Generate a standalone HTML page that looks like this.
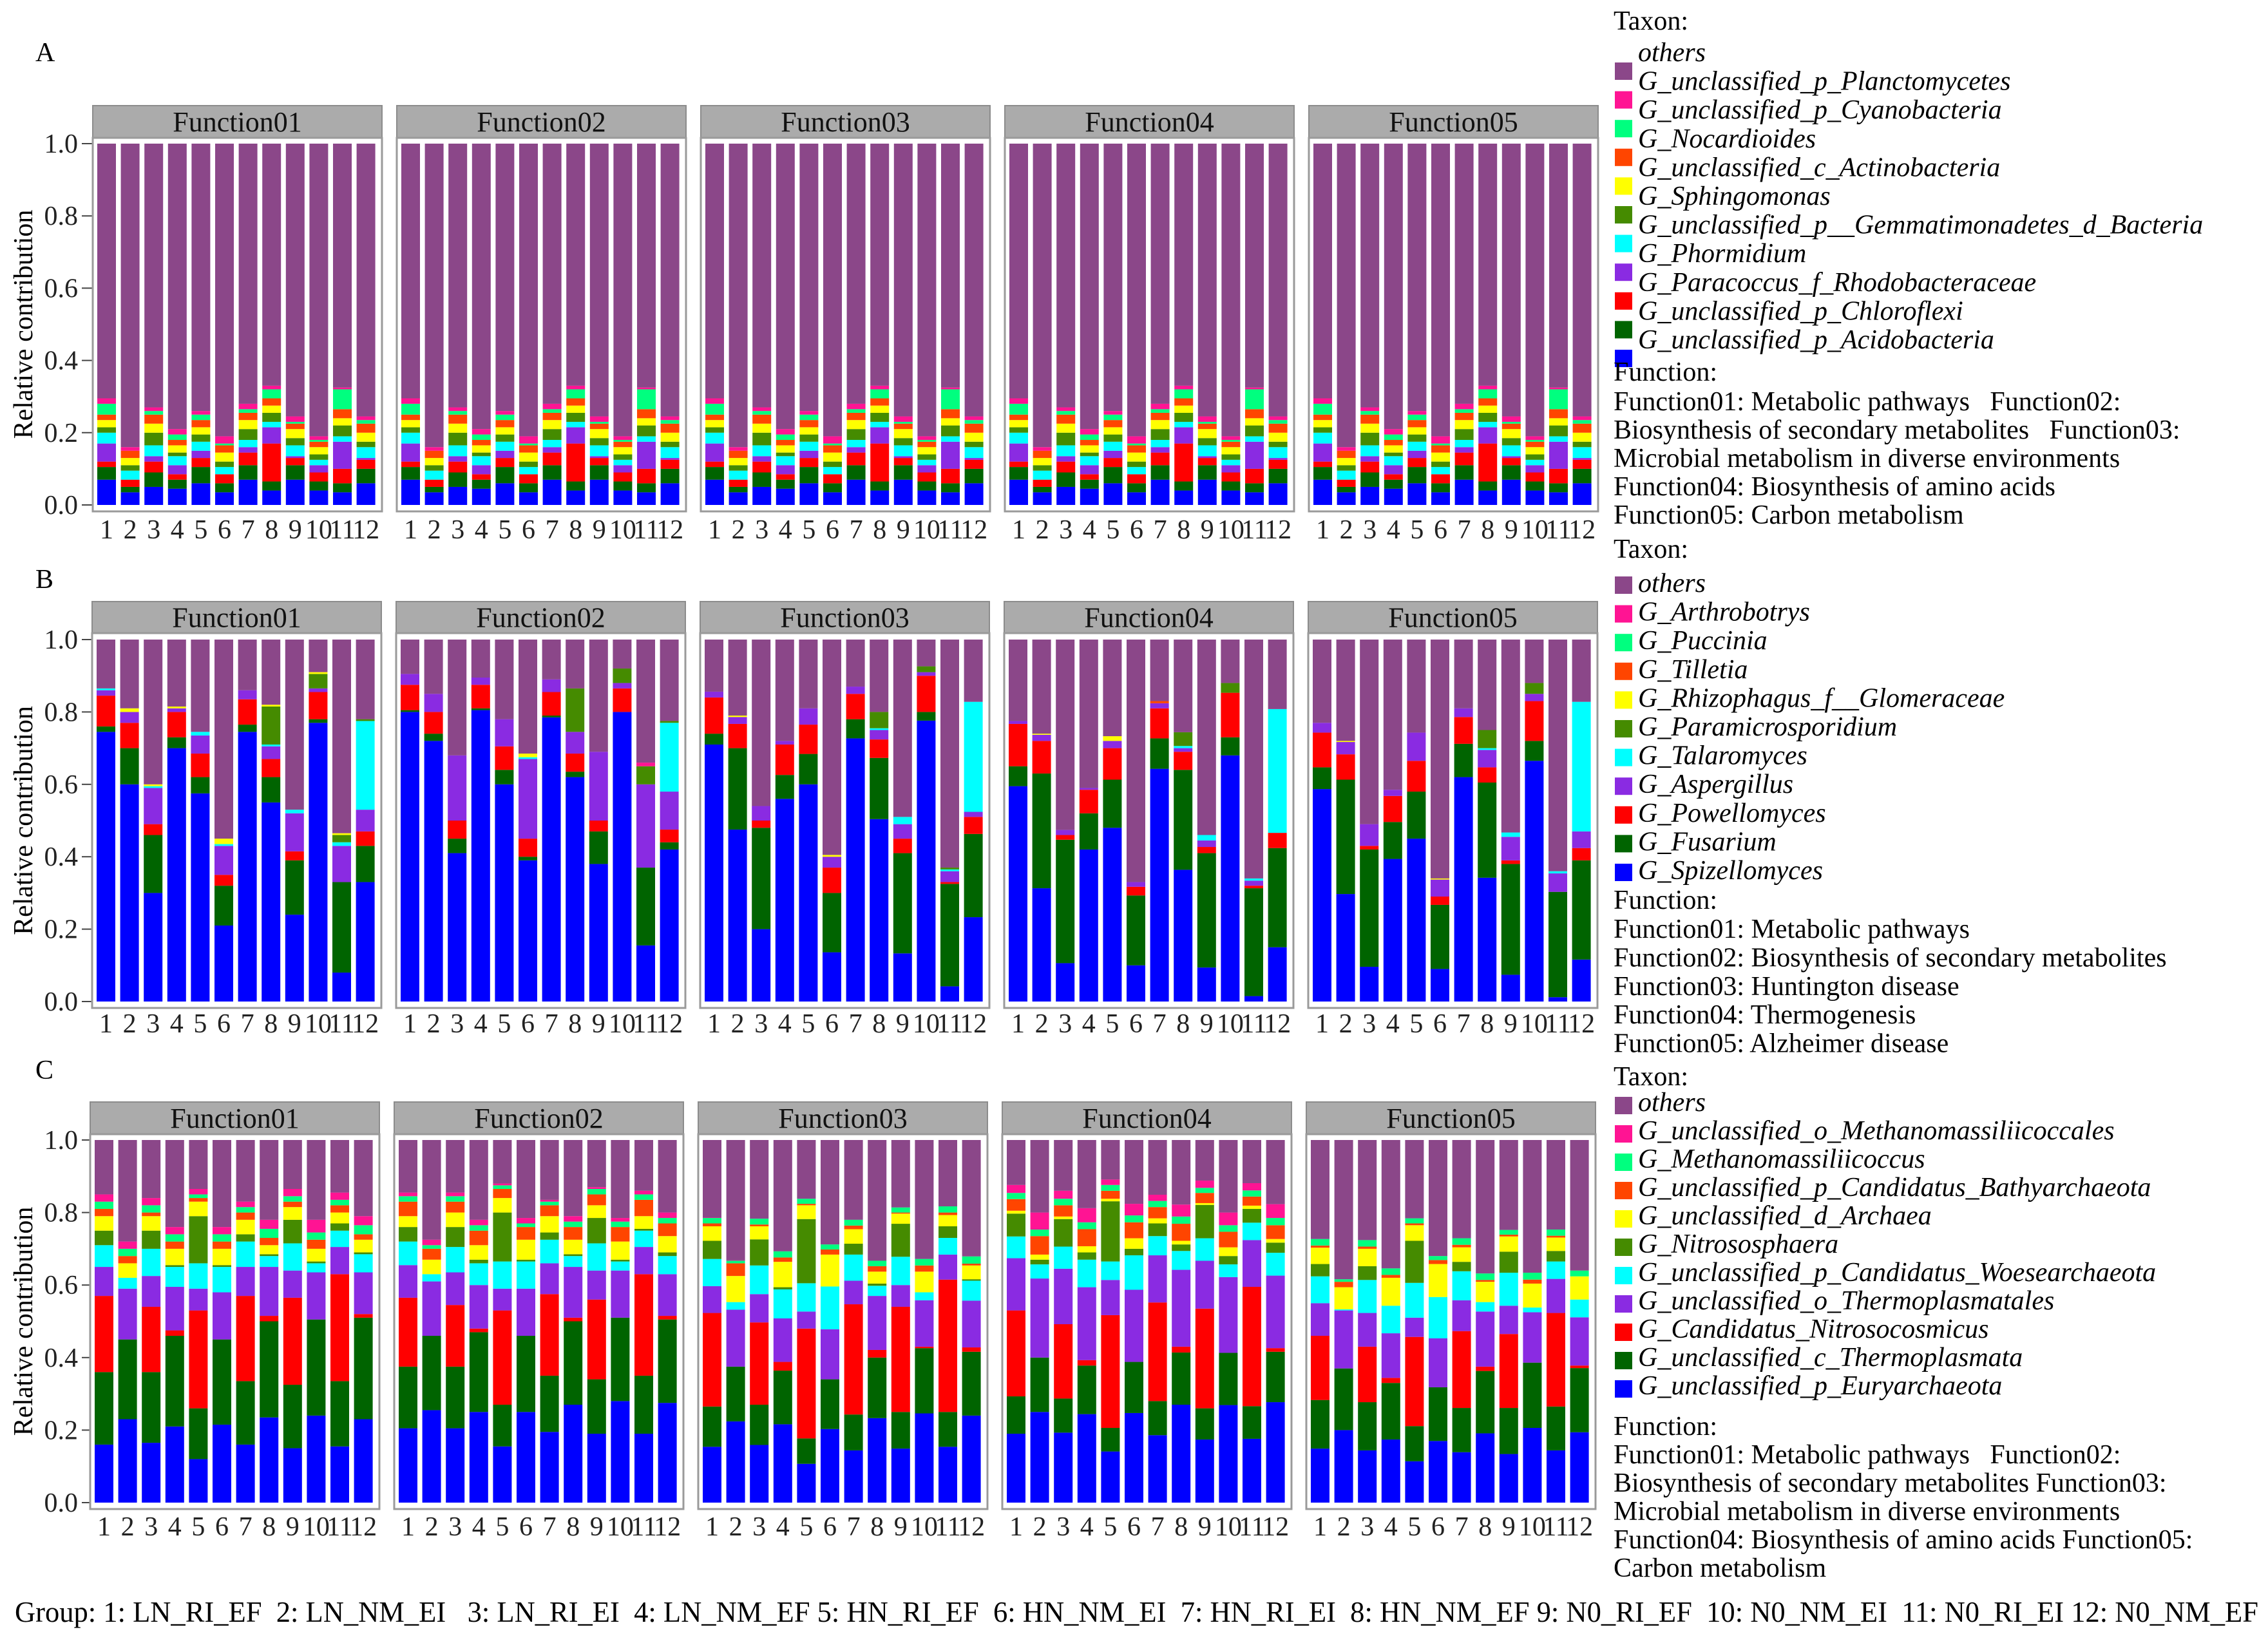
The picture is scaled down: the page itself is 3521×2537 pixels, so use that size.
<!DOCTYPE html>
<html><head><meta charset="utf-8"><style>
html,body{margin:0;padding:0;background:#fff;}
svg{display:block;}
svg text{font-family:"Liberation Serif","DejaVu Serif","Times New Roman",serif;white-space:pre;}
</style></head><body>
<svg id="chart" xmlns="http://www.w3.org/2000/svg" width="3521" height="2537" viewBox="0 0 3521 2537" font-family="Liberation Serif, serif"></svg>
<script>
// ---------- data ----------
const groups = ["1","2","3","4","5","6","7","8","9","10","11","12"];
const functionNames = ["Function01","Function02","Function03","Function04","Function05"];
const yTicks = [0, 0.2, 0.4, 0.6, 0.8, 1.0];
const yTickLabels = ["0.0","0.2","0.4","0.6","0.8","1.0"];
const stackColors = ["#0000FF","#006400","#FF0000","#8A2BE2","#00FFFF","#458B00","#FFFF00","#FF4500","#00FF7F","#FF1493","#8B4789"];

const rowA_cum = [
 [.07,.105,.12,.17,.2,.215,.235,.25,.28,.295],
 [.035,.05,.07,.07,.095,.11,.13,.15,.15,.16],
 [.05,.09,.12,.135,.165,.2,.225,.25,.26,.27],
 [.045,.07,.085,.11,.135,.145,.165,.18,.195,.21],
 [.06,.105,.13,.15,.175,.195,.215,.235,.25,.26],
 [.035,.06,.085,.085,.105,.12,.145,.165,.17,.19],
 [.07,.11,.145,.16,.18,.21,.235,.255,.265,.28],
 [.04,.065,.17,.215,.23,.255,.275,.295,.32,.33],
 [.07,.11,.13,.135,.165,.185,.21,.225,.23,.245],
 [.04,.065,.09,.11,.125,.14,.16,.175,.18,.19],
 [.035,.06,.1,.175,.19,.22,.24,.265,.32,.325],
 [.06,.1,.125,.13,.16,.175,.2,.225,.235,.245]
];
const rowB_f1 = [
 [.745,.76,.845,.86,.865,.865,.865,.865,.865,.865],
 [.60,.70,.77,.80,.80,.80,.81,.81,.81,.81],
 [.30,.46,.49,.59,.595,.595,.60,.60,.60,.60],
 [.70,.73,.80,.81,.81,.81,.815,.815,.815,.815],
 [.575,.62,.685,.735,.745,.745,.745,.745,.745,.745],
 [.21,.32,.35,.43,.435,.435,.45,.45,.45,.45],
 [.745,.765,.835,.86,.86,.86,.86,.86,.86,.86],
 [.55,.62,.67,.705,.71,.815,.82,.82,.82,.82],
 [.24,.39,.415,.52,.53,.53,.53,.53,.53,.53],
 [.77,.78,.855,.865,.865,.905,.91,.91,.91,.91],
 [.08,.33,.33,.43,.44,.46,.465,.465,.465,.465],
 [.33,.43,.47,.53,.775,.78,.78,.78,.78,.78]
];
const rowB_f2 = [
 [.80,.805,.875,.905,.905,.905,.905,.905,.905,.905],
 [.72,.74,.80,.85,.85,.85,.85,.85,.85,.85],
 [.41,.45,.50,.68,.68,.68,.68,.68,.68,.68],
 [.805,.81,.875,.895,.895,.895,.895,.895,.895,.895],
 [.60,.64,.705,.78,.78,.78,.78,.78,.78,.78],
 [.39,.40,.45,.67,.675,.675,.685,.685,.685,.685],
 [.785,.79,.855,.89,.89,.89,.89,.89,.89,.89],
 [.62,.635,.685,.745,.745,.865,.865,.865,.865,.865],
 [.38,.47,.50,.69,.69,.69,.69,.69,.69,.69],
 [.80,.80,.865,.88,.88,.92,.92,.92,.92,.92],
 [.155,.37,.37,.60,.60,.65,.65,.65,.65,.66],
 [.42,.44,.475,.58,.77,.775,.775,.775,.775,.775]
];
const rowB_f3 = [
 [.71,.74,.84,.856,.856,.856,.856,.856,.856,.856],
 [.475,.70,.767,.786,.786,.786,.79,.79,.79,.79],
 [.20,.48,.50,.54,.54,.54,.54,.54,.54,.54],
 [.56,.626,.71,.72,.72,.72,.72,.72,.72,.72],
 [.60,.684,.765,.81,.81,.81,.81,.81,.81,.81],
 [.136,.30,.37,.40,.40,.40,.405,.405,.405,.405],
 [.727,.78,.85,.87,.87,.87,.87,.87,.87,.87],
 [.504,.673,.724,.75,.755,.80,.80,.80,.80,.80],
 [.133,.41,.45,.49,.51,.51,.51,.51,.51,.51],
 [.776,.80,.90,.91,.91,.926,.926,.926,.926,.926],
 [.042,.325,.33,.36,.365,.37,.37,.37,.37,.37],
 [.233,.463,.51,.524,.828,.828,.828,.828,.828,.828]
];
const rowB_f4 = [
 [.595,.65,.767,.775,.775,.775,.775,.775,.775,.775],
 [.313,.63,.72,.737,.737,.737,.74,.74,.74,.74],
 [.106,.447,.46,.474,.474,.474,.474,.474,.474,.474],
 [.42,.52,.585,.59,.59,.59,.59,.59,.59,.59],
 [.48,.613,.70,.72,.72,.72,.733,.733,.733,.733],
 [.10,.293,.317,.33,.33,.33,.33,.33,.33,.33],
 [.643,.727,.81,.824,.824,.824,.824,.83,.83,.83],
 [.364,.64,.69,.70,.706,.744,.744,.744,.744,.744],
 [.094,.41,.427,.445,.46,.46,.46,.46,.46,.46],
 [.68,.73,.853,.853,.853,.88,.88,.88,.88,.88],
 [.015,.313,.32,.334,.34,.34,.34,.34,.34,.34],
 [.15,.424,.466,.466,.808,.808,.808,.808,.808,.808]
];
const rowB_f5 = [
 [.587,.647,.743,.77,.77,.77,.77,.77,.77,.77],
 [.297,.613,.683,.717,.717,.717,.72,.72,.72,.72],
 [.096,.42,.43,.49,.49,.49,.49,.49,.49,.49],
 [.394,.496,.568,.585,.585,.585,.585,.585,.585,.585],
 [.45,.58,.665,.743,.743,.743,.743,.743,.743,.743],
 [.09,.267,.29,.337,.337,.337,.34,.34,.34,.34],
 [.62,.712,.786,.81,.81,.81,.81,.81,.81,.81],
 [.342,.605,.647,.695,.70,.75,.75,.75,.75,.75],
 [.074,.38,.39,.455,.467,.467,.467,.467,.467,.467],
 [.665,.72,.83,.85,.85,.88,.88,.88,.88,.88],
 [.012,.303,.303,.354,.36,.36,.36,.36,.36,.36],
 [.116,.39,.424,.47,.828,.828,.828,.828,.828,.828]
];
const rowC_f1 = [
 [.16,.36,.57,.65,.71,.75,.79,.81,.83,.85],
 [.23,.45,.45,.59,.62,.62,.66,.68,.70,.72],
 [.165,.36,.54,.625,.70,.75,.79,.80,.82,.84],
 [.21,.46,.475,.595,.65,.655,.70,.72,.74,.76],
 [.12,.26,.53,.59,.66,.79,.83,.84,.85,.865],
 [.215,.45,.45,.58,.65,.655,.70,.72,.74,.76],
 [.16,.335,.57,.65,.72,.74,.78,.80,.815,.83],
 [.235,.50,.515,.65,.68,.685,.71,.73,.755,.78],
 [.15,.325,.565,.64,.715,.78,.815,.83,.845,.865],
 [.24,.505,.505,.635,.66,.665,.70,.725,.745,.78],
 [.155,.335,.63,.705,.75,.77,.80,.82,.835,.855],
 [.23,.51,.52,.635,.685,.69,.725,.74,.765,.79]
];
const rowC_f2 = [
 [.205,.375,.565,.655,.72,.76,.79,.83,.845,.855],
 [.255,.46,.46,.61,.63,.63,.67,.70,.71,.725],
 [.205,.375,.545,.635,.705,.76,.80,.83,.845,.855],
 [.25,.47,.48,.60,.66,.67,.71,.75,.765,.78],
 [.155,.27,.53,.59,.665,.80,.84,.865,.875,.88],
 [.25,.46,.46,.59,.665,.67,.725,.76,.77,.785],
 [.195,.35,.575,.66,.725,.745,.79,.82,.83,.835],
 [.27,.50,.51,.65,.68,.685,.725,.76,.775,.79],
 [.19,.34,.56,.64,.715,.785,.82,.85,.865,.87],
 [.28,.51,.51,.64,.665,.67,.72,.76,.775,.785],
 [.19,.35,.63,.705,.75,.755,.79,.835,.85,.86],
 [.275,.505,.515,.63,.68,.69,.735,.77,.785,.80]
];
const rowC_f3 = [
 [.154,.265,.523,.597,.672,.722,.762,.77,.785,.786],
 [.224,.375,.375,.532,.553,.553,.625,.66,.667,.668],
 [.159,.27,.497,.575,.654,.726,.762,.767,.783,.783],
 [.216,.364,.388,.508,.588,.594,.664,.676,.693,.693],
 [.107,.177,.48,.527,.605,.782,.82,.824,.838,.838],
 [.203,.34,.34,.478,.596,.596,.684,.698,.712,.712],
 [.144,.243,.547,.612,.684,.714,.754,.764,.78,.78],
 [.233,.40,.421,.57,.598,.604,.637,.652,.667,.667],
 [.149,.25,.54,.60,.678,.769,.797,.80,.814,.814],
 [.246,.426,.43,.558,.58,.58,.637,.654,.672,.672],
 [.154,.25,.615,.684,.73,.762,.793,.80,.817,.817],
 [.24,.416,.428,.557,.612,.616,.654,.659,.679,.679]
];
const rowC_f4 = [
 [.19,.293,.53,.674,.734,.797,.805,.837,.854,.876],
 [.25,.40,.40,.618,.657,.67,.684,.735,.753,.80],
 [.193,.287,.492,.645,.706,.782,.789,.82,.838,.86],
 [.244,.378,.393,.594,.67,.69,.707,.754,.773,.812],
 [.141,.206,.517,.614,.665,.831,.838,.86,.876,.891],
 [.247,.388,.388,.587,.682,.70,.729,.773,.792,.824],
 [.186,.28,.552,.682,.735,.77,.784,.815,.832,.849],
 [.27,.414,.43,.642,.694,.712,.722,.769,.789,.822],
 [.174,.26,.535,.667,.729,.821,.826,.854,.868,.888],
 [.269,.413,.413,.622,.657,.68,.704,.747,.765,.80],
 [.176,.266,.595,.724,.772,.81,.819,.844,.861,.881],
 [.277,.416,.426,.626,.689,.717,.727,.765,.785,.823]
];
const rowC_f5 = [
 [.149,.283,.46,.55,.624,.658,.703,.709,.727,.727],
 [.20,.37,.37,.53,.533,.533,.594,.609,.616,.616],
 [.144,.277,.43,.523,.614,.652,.70,.706,.724,.724],
 [.174,.33,.344,.467,.543,.543,.62,.628,.646,.646],
 [.114,.211,.457,.51,.606,.722,.765,.77,.784,.784],
 [.17,.318,.318,.453,.567,.567,.658,.669,.68,.68],
 [.139,.261,.473,.558,.638,.664,.704,.711,.729,.729],
 [.191,.363,.375,.527,.553,.553,.609,.614,.632,.632],
 [.134,.261,.465,.543,.634,.692,.734,.739,.752,.752],
 [.206,.386,.386,.525,.538,.538,.604,.615,.634,.634],
 [.144,.265,.523,.617,.665,.694,.731,.736,.753,.753],
 [.194,.371,.378,.511,.56,.56,.624,.624,.64,.64]
];

const legendA = ["others","G_unclassified_p_Planctomycetes","G_unclassified_p_Cyanobacteria","G_Nocardioides","G_unclassified_c_Actinobacteria","G_Sphingomonas","G_unclassified_p__Gemmatimonadetes_d_Bacteria","G_Phormidium","G_Paracoccus_f_Rhodobacteraceae","G_unclassified_p_Chloroflexi","G_unclassified_p_Acidobacteria"];
const legendB = ["others","G_Arthrobotrys","G_Puccinia","G_Tilletia","G_Rhizophagus_f__Glomeraceae","G_Paramicrosporidium","G_Talaromyces","G_Aspergillus","G_Powellomyces","G_Fusarium","G_Spizellomyces"];
const legendC = ["others","G_unclassified_o_Methanomassiliicoccales","G_Methanomassiliicoccus","G_unclassified_p_Candidatus_Bathyarchaeota","G_unclassified_d_Archaea","G_Nitrososphaera","G_unclassified_p_Candidatus_Woesearchaeota","G_unclassified_o_Thermoplasmatales","G_Candidatus_Nitrosocosmicus","G_unclassified_c_Thermoplasmata","G_unclassified_p_Euryarchaeota"];
const funcA = ["Function01: Metabolic pathways   Function02:","Biosynthesis of secondary metabolites   Function03:","Microbial metabolism in diverse environments","Function04: Biosynthesis of amino acids","Function05: Carbon metabolism"];
const funcB = ["Function01: Metabolic pathways","Function02: Biosynthesis of secondary metabolites","Function03: Huntington disease","Function04: Thermogenesis","Function05: Alzheimer disease"];
const funcC = ["Function01: Metabolic pathways   Function02:","Biosynthesis of secondary metabolites Function03:","Microbial metabolism in diverse environments","Function04: Biosynthesis of amino acids Function05:","Carbon metabolism"];

// ---------- drawing ----------
const NS = "http://www.w3.org/2000/svg";
const FONT = "Liberation Serif, DejaVu Serif, serif";
const svg = document.getElementById('chart');
function mk(tag, attrs, parent, text){
  const e = document.createElementNS(NS, tag);
  for (const k in attrs) e.setAttribute(k, attrs[k]);
  if (tag === 'text') e.setAttribute('font-family', FONT);
  if (text !== undefined) e.textContent = text;
  (parent || svg).appendChild(e);
  return e;
}
const rows = [
  {letter:"A", letterY:95, stripTop:164, stripBot:214, y1:223, y0:784, frameBot:794, numBase:836, frameX0:144,
   data:[rowA_cum,rowA_cum,rowA_cum,rowA_cum,rowA_cum], legend:legendA, taxonBase:46, firstBase:95, pitch:44.6, sqOff:2, funcHead:591, funcFirst:637, funcPitch:44, funcs:funcA, key:"a"},
  {letter:"B", letterY:913, stripTop:934, stripBot:983, y1:993, y0:1555, frameBot:1565, numBase:1603, frameX0:143,
   data:[rowB_f1,rowB_f2,rowB_f3,rowB_f4,rowB_f5], legend:legendB, taxonBase:866, firstBase:919, pitch:44.6, sqOff:-24, funcHead:1411, funcFirst:1456, funcPitch:44.4, funcs:funcB, key:"b"},
  {letter:"C", letterY:1675, stripTop:1711, stripBot:1761, y1:1770, y0:2333, frameBot:2343, numBase:2384, frameX0:140,
   data:[rowC_f1,rowC_f2,rowC_f3,rowC_f4,rowC_f5], legend:legendC, taxonBase:1685, firstBase:1725, pitch:44, sqOff:-22, funcHead:2228, funcFirst:2272, funcPitch:44, funcs:funcC, key:"c"}
];
const panelPitch = 472, frameW = 449, barPitch = 36.6, barW = 29, barOff = 7;

rows.forEach(function(r){
  const g = mk('g', {});
  
  
  const yScale = function(v){ return r.y0 - v * (r.y0 - r.y1); };
  const lt = mk('text', {x:55, y:r.letterY, 'font-size':42, fill:'#000'}, g, r.letter);
  
  
  const midY = (r.y0 + r.y1) / 2;
  const yt = mk('text', {x:50, y:midY, 'font-size':42, 'text-anchor':'middle', transform:'rotate(-90 50 ' + midY + ')'}, g, "Relative contribution");
  
  
  yTicks.forEach(function(t, i){
    const y = yScale(t);
    const tl = mk('text', {x:121, y:y + 14, 'font-size':42, 'text-anchor':'end', fill:'#222'}, g, yTickLabels[i]);
    
    
    mk('line', {x1:127, x2:r.frameX0, y1:y, y2:y, stroke:'#444', 'stroke-width':2}, g);
  });
  functionNames.forEach(function(fn, p){
    const fx = r.frameX0 + p * panelPitch;
    const pg = mk('g', {}, g);
    
    
    const strip = mk('rect', {x:fx, y:r.stripTop, width:frameW, height:r.stripBot - r.stripTop, fill:'#ABABAB', stroke:'#8c8c8c', 'stroke-width':2}, pg);
    
    
    const st = mk('text', {x:fx + frameW/2, y:(r.stripTop + r.stripBot)/2 + 15, 'font-size':44, 'text-anchor':'middle', fill:'#111'}, pg, fn);
    
    
    mk('rect', {x:fx, y:r.stripBot, width:frameW, height:r.frameBot - r.stripBot, fill:'#fff', stroke:'#9a9a9a', 'stroke-width':3}, pg);
    const series = r.data[p];
    series.forEach(function(cum, i){
      const bx = fx + barOff + i * barPitch;
      const bg = mk('g', {}, pg);
      
      
      let prev = 0;
      const tops = cum.concat([1]);
      tops.forEach(function(top, k){
        if (top > prev) {
          const rc = mk('rect', {x:bx, y:yScale(top), width:barW, height:yScale(prev) - yScale(top), fill:stackColors[k]}, bg);
          
          
        }
        prev = Math.max(prev, top);
      });
      const nl = mk('text', {x:bx + barW/2, y:r.numBase, 'font-size':42, 'text-anchor':'middle', fill:'#222'}, pg, groups[i]);
      
      
    });
  });
  const lg = mk('g', {}, g);
  
  
  const th = mk('text', {x:2505, y:r.taxonBase, 'font-size':42}, lg, "Taxon:");
  
  
  r.legend.forEach(function(name, i){
    const by = r.firstBase + i * r.pitch;
    const col = stackColors[stackColors.length - 1 - i];
    const sq = mk('rect', {x:2507, y:by + r.sqOff, width:27, height:27, fill:col}, lg);
    
    
    const lt2 = mk('text', {x:2543, y:by, 'font-size':42, 'font-style':'italic'}, lg, name);
    
    
  });
  const fh = mk('text', {x:2505, y:r.funcHead, 'font-size':42}, lg, "Function:");
  
  
  r.funcs.forEach(function(line, i){
    const ft = mk('text', {x:2505, y:r.funcFirst + i * r.funcPitch, 'font-size':42}, lg, line);
    
    
  });
});
const gt = mk('text', {x:23, y:2518, 'font-size':46, textLength:3483, lengthAdjust:'spacingAndGlyphs'}, svg,
  "Group: 1: LN_RI_EF  2: LN_NM_EI   3: LN_RI_EI  4: LN_NM_EF 5: HN_RI_EF  6: HN_NM_EI  7: HN_RI_EI  8: HN_NM_EF 9: N0_RI_EF  10: N0_NM_EI  11: N0_RI_EI 12: N0_NM_EF");


</script>
</body></html>
